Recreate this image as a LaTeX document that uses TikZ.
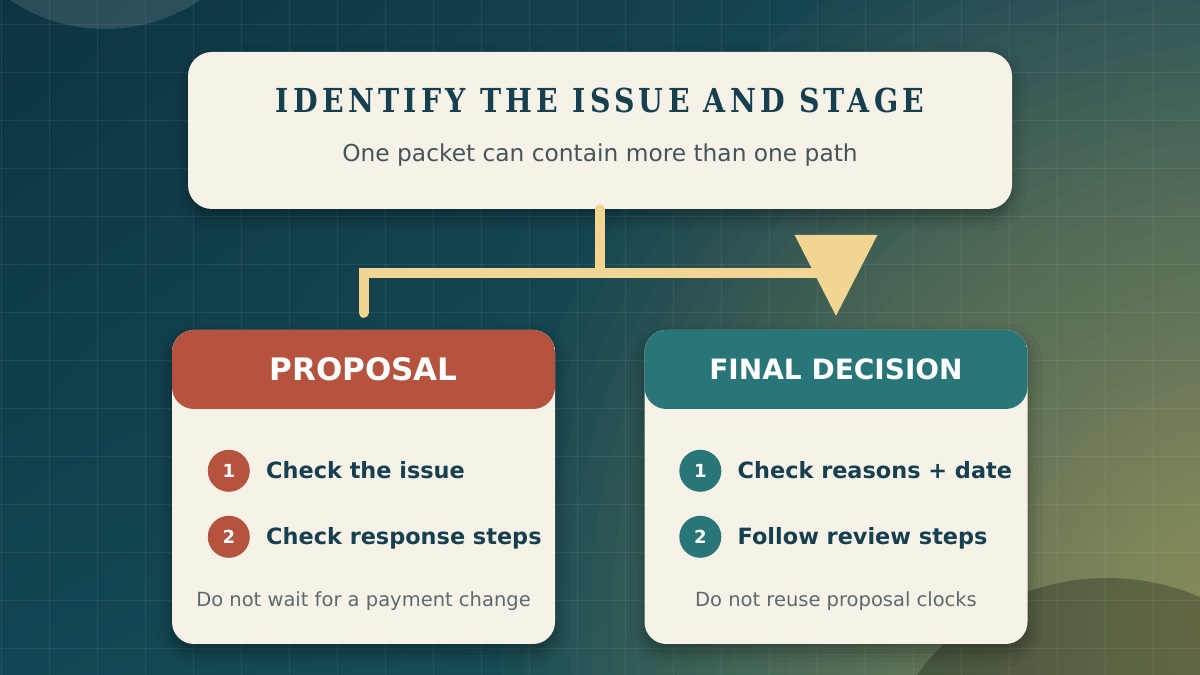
\documentclass[tikz,border=0pt]{standalone}
\usepackage{fontspec}
\setmainfont{DejaVu Sans}
\newfontfamily\titlefont{DejaVu Serif}[FakeStretch=0.86, LetterSpace=13]
\usetikzlibrary{arrows.meta, positioning, calc, shadings, shadows.blur}
\definecolor{bgtl}{RGB}{13,52,66}
\definecolor{bgbl}{RGB}{18,70,82}
\definecolor{bgtr}{RGB}{27,75,88}
\definecolor{bgbr}{RGB}{30,85,90}
\definecolor{glowin}{RGB}{176,166,100}
\definecolor{cream}{RGB}{246,242,232}
\definecolor{inkteal}{RGB}{22,64,79}
\definecolor{subgray}{RGB}{68,85,90}
\definecolor{notegray}{RGB}{93,106,109}
\definecolor{gold}{RGB}{242,213,146}
\definecolor{propred}{RGB}{181,83,63}
\definecolor{decteal}{RGB}{40,118,119}

\begin{document}
\begin{tikzpicture}[x=1pt, y=1pt,
    gridline/.style={white, opacity=0.07, line width=1pt},
    panel/.style={fill=cream, rounded corners=24pt, inner sep=0pt,
        blur shadow={shadow xshift=0pt, shadow yshift=-8pt, shadow blur radius=14pt, shadow opacity=35}},
    card/.style={panel, rounded corners=22pt, minimum width=383pt, minimum height=314pt,
        path picture={\fill[#1] (path picture bounding box.north west) rectangle ([yshift=-79pt]path picture bounding box.north east);}},
    headtext/.style={text=white, inner sep=0pt, font=\bfseries\fontsize{#1}{#1}\selectfont},
    badge/.style={circle, fill=#1, minimum size=42pt, inner sep=0pt, text=white, font=\bfseries\fontsize{18}{18}\selectfont},
    itemtext/.style={inner sep=0pt, text=inkteal, text height=16pt, text depth=0pt, font=\bfseries\fontsize{22.4}{22.4}\selectfont},
    note/.style={anchor=base, inner sep=0pt, text=notegray, font=\fontsize{19.5}{19.5}\selectfont},
    link/.style={draw=gold, line width=10pt, line cap=round}
]
    % background
    \useasboundingbox (0,0) rectangle (1200,675);
    \begin{scope}
        \clip (0,0) rectangle (1200,675);
        \shade[upper left=bgtl, lower left=bgbl, upper right=bgtr, lower right=bgbr] (0,0) rectangle (1200,675);
        \foreach \k in {1,...,80}
            \fill[glowin, opacity=0.03] (1250,55) circle ({750*(\k/80)^2.5});
        \fill[white, opacity=0.12] (105,816) circle (170);
        \fill[black, opacity=0.25] (1107,-138) circle (235);
        \foreach \x in {1,49,...,1200}
            \draw[gridline] (\x,0) -- (\x,675);
        \foreach \y in {650,602,...,0}
            \draw[gridline] (0,\y) -- (1200,\y);
    \end{scope}

    % boxes
    \node[panel, minimum width=824pt, minimum height=157pt] (head) at (600,544.5) {};
    \node[anchor=base, inner sep=0pt, text=inkteal, font=\titlefont\bfseries\fontsize{33}{33}\selectfont]
        at ([yshift=-61pt]head.north) {IDENTIFY THE ISSUE AND STAGE};
    \node[anchor=base, inner sep=0pt, text=subgray, font=\fontsize{23.3}{23.3}\selectfont]
        at ([yshift=-110pt]head.north) {One packet can contain more than one path};

    \node[card=propred] (proposal) at (363.5,188) {};
    \node[card=decteal] (decision) at (836,188) {};

    \node[headtext=31] at ([yshift=-39pt]proposal.north) {PROPOSAL};
    \node[headtext=28] at ([yshift=-40pt]decision.north) {FINAL DECISION};

    % steps
    \node[badge=propred] (p1) at ([shift={(57pt,-141pt)}]proposal.north west) {1};
    \node[badge=propred] (p2) at ([shift={(57pt,-207pt)}]proposal.north west) {2};
    \node[itemtext, right=16pt of p1] {Check the issue};
    \node[itemtext, right=16pt of p2] {Check response steps};
    \node[note] at ([yshift=-277pt]proposal.north) {Do not wait for a payment change};

    \node[badge=decteal] (d1) at ([shift={(56pt,-141pt)}]decision.north west) {1};
    \node[badge=decteal] (d2) at ([shift={(56pt,-207pt)}]decision.north west) {2};
    \node[itemtext, right=16pt of d1] {Check reasons + date};
    \node[itemtext, right=16pt of d2] {Follow review steps};
    \node[note] at ([yshift=-277pt]decision.north) {Do not reuse proposal clocks};

    % connectors
    \coordinate (branch) at ($(proposal.north)+(0,57)$);
    \coordinate (join) at (head.south |- branch);
    \draw[link] (head.south) -- (join);
    \draw[link] ([yshift=17pt]proposal.north) -- (branch) -- (join);
    \draw[link, line cap=butt, -{Triangle[length=81pt, width=83pt, line width=0pt]}]
        (join) -| ([yshift=14pt]decision.north);
\end{tikzpicture}
\end{document}
